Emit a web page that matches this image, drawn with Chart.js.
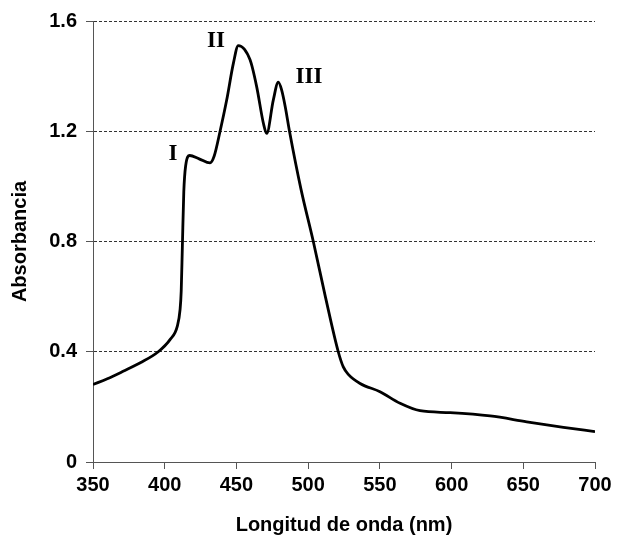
<!DOCTYPE html>
<html>
<head>
<meta charset="utf-8">
<script src="https://cdn.jsdelivr.net/npm/chart.js@4.4.1/dist/chart.umd.min.js"></script>
<style>
  html, body { margin: 0; padding: 0; background: #ffffff; }
  #wrap { width: 619px; height: 544px; }
</style>
</head>
<body>
<div id="wrap"><canvas id="c" width="619" height="544"></canvas></div>
<script>
// ---- data ----
const wavelengths = [350, 360, 371, 383, 395.5, 403.7, 408.8, 410.7, 411.5, 412.3, 413.3, 414.6, 417.4, 424, 431.6, 434.5, 438.6, 443.2, 447.9, 451.3, 459.5, 464.1, 468.8, 471.1, 475.7, 479.2, 481.5, 484, 487, 495, 503.6, 512, 521, 524.5, 528, 536.2, 550.1, 564.1, 578, 599, 626.9, 652.4, 678, 700];
const absorbance  = [0.281, 0.302, 0.329, 0.36, 0.40, 0.444, 0.493, 0.553, 0.62, 0.78, 0.98, 1.075, 1.112, 1.10, 1.085, 1.11, 1.20, 1.313, 1.447, 1.511, 1.459, 1.362, 1.229, 1.192, 1.313, 1.378, 1.35, 1.29, 1.20, 0.99, 0.80, 0.60, 0.40, 0.345, 0.318, 0.285, 0.255, 0.213, 0.186, 0.179, 0.167, 0.146, 0.126, 0.11];
const xTickValues = [350, 400, 450, 500, 550, 600, 650, 700];
const yTickLabels = ["0", "0.4", "0.8", "1.2", "1.6"];
const peakLabels = ["I", "II", "III"];
const peakLabelX = [405.8, 435.8, 500.6];
const peakLabelY = [1.119, 1.526, 1.398];

const points = wavelengths.map((w, i) => ({ x: w, y: absorbance[i] }));

const peakLabelPlugin = {
  id: 'peakLabels',
  afterDatasetsDraw(chart) {
    const { ctx, scales } = chart;
    ctx.save();
    ctx.font = 'bold 23px "Liberation Serif", "Times New Roman", serif';
    ctx.fillStyle = '#000';
    ctx.textAlign = 'center';
    ctx.textBaseline = 'middle';
    peakLabels.forEach((t, i) => {
      ctx.fillText(t, scales.x.getPixelForValue(peakLabelX[i]), scales.y.getPixelForValue(peakLabelY[i]));
    });
    ctx.restore();
  }
};

const bgPlugin = {
  id: 'bg',
  beforeDraw(chart) {
    const { ctx } = chart;
    ctx.save();
    ctx.fillStyle = '#fff';
    ctx.fillRect(0, 0, chart.width, chart.height);
    ctx.restore();
  }
};

const labelFont = { family: '"Liberation Sans", Arial, sans-serif', size: 20, weight: 'bold' };

new Chart(document.getElementById('c'), {
  type: 'line',
  data: {
    datasets: [{
      data: points,
      borderColor: '#000',
      borderWidth: 2.8,
      pointRadius: 0,
      fill: false,
      cubicInterpolationMode: 'monotone'
    }]
  },
  options: {
    responsive: false,
    animation: false,
    plugins: { legend: { display: false }, tooltip: { enabled: false } },
    layout: { padding: { left: 0, top: 21, right: 24, bottom: 0 } },
    scales: {
      x: {
        type: 'linear',
        min: 350, max: 700,
        afterFit(s) { s.height = 82; },
        afterBuildTicks(s) { s.ticks = xTickValues.map(v => ({ value: v })); },
        ticks: { font: labelFont, color: '#000', padding: 4, maxRotation: 0,
                 callback: v => String(v) },
        grid: { drawOnChartArea: false, drawTicks: true, tickLength: 7, tickColor: '#555', tickWidth: 1 },
        border: { color: '#555', width: 1 },
        title: { display: true, text: 'Longitud de onda (nm)', font: labelFont, color: '#000',
                 padding: { top: 0, bottom: 7 } }
      },
      y: {
        min: 0, max: 1.6,
        afterFit(s) { s.width = 93; },
        afterBuildTicks(s) { s.ticks = yTickLabels.map(t => ({ value: parseFloat(t) })); },
        ticks: { font: labelFont, color: '#000', padding: 9,
                 callback: (v, i) => yTickLabels[i] },
        grid: { color: '#333', lineWidth: 1, tickLength: 7, tickColor: '#555', tickBorderDash: [] },
        border: { color: '#555', width: 1, dash: [3, 2] },
        title: { display: true, text: 'Absorbancia', font: labelFont, color: '#000',
                 padding: { top: 8, bottom: 0 } }
      }
    }
  },
  plugins: [bgPlugin, peakLabelPlugin]
});
</script>
</body>
</html>
